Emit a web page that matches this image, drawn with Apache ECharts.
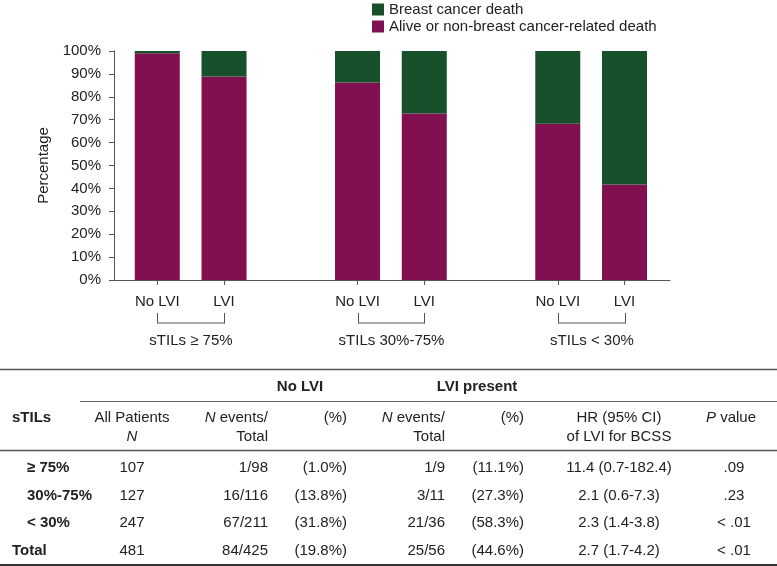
<!DOCTYPE html>
<html><head><meta charset="utf-8">
<script src="https://cdn.jsdelivr.net/npm/echarts@6/dist/echarts.min.js"></script>
<style>html,body{margin:0;padding:0;background:#fff}#c{width:777px;height:566px}</style>
</head><body><div id="c"></div>
<script>
// ---- chart data ----
const groupNames = ['sTILs ≥ 75%', 'sTILs 30%-75%', 'sTILs < 30%'];
const lviNames = ['No LVI', 'LVI'];
const seriesNames = ['Breast cancer death', 'Alive or non-breast cancer-related death'];
const alivePct = [99.0, 88.9, 86.2, 72.7, 68.2, 41.7];
const deathPct = [1.0, 11.1, 13.8, 27.3, 31.8, 58.3];

// ---- table data ----
const rowLabels = ['≥ 75%', '30%-75%', '< 30%', 'Total'];
const allPatients = ['107', '127', '247', '481'];
const noLviEvents = ['1/98', '16/116', '67/211', '84/425'];
const noLviPct = ['(1.0%)', '(13.8%)', '(31.8%)', '(19.8%)'];
const lviEvents = ['1/9', '3/11', '21/36', '25/56'];
const lviPct = ['(11.1%)', '(27.3%)', '(58.3%)', '(44.6%)'];
const hrLvi = ['11.4 (0.7-182.4)', '2.1 (0.6-7.3)', '2.3 (1.4-3.8)', '2.7 (1.7-4.2)'];
const pValues = ['.09', '.23', '< .01', '< .01'];

const FONT = '"Liberation Sans", Arial, Helvetica, sans-serif';
const TXT = '#222';
const GREEN = '#17502A';
const MAGENTA = '#80104F';
const AXIS = '#555';

// categories with an empty slot between groups
const categories = [];
const barIndex = [];   // category index of each bar
groupNames.forEach((g, gi) => {
  if (gi > 0) categories.push('');
  lviNames.forEach(n => { barIndex.push(categories.length); categories.push(n); });
});
function spread(vals) {
  const out = categories.map(() => '-');
  barIndex.forEach((ci, k) => { out[ci] = vals[k]; });
  return out;
}

const chart = echarts.init(document.getElementById('c'), null, { renderer: 'canvas' });

const option = {
  animation: false,
  textStyle: { fontFamily: FONT },
  legend: {
    orient: 'vertical', left: 372, top: 2, padding: 0,
    itemWidth: 12, itemHeight: 12, itemGap: 2,
    icon: 'rect',
    data: [seriesNames[0], seriesNames[1]],
    textStyle: { fontSize: 15, color: TXT, fontFamily: FONT }
  },
  grid: [
    { left: 114, right: 107, top: 51, bottom: 286, containLabel: false },
    { left: 123.9, right: 119.1, top: 51, bottom: 286, containLabel: false }
  ],
  xAxis: [
    {
      gridIndex: 0, type: 'value', min: 0, max: 1,
      splitLine: { show: false }, axisTick: { show: false }, axisLabel: { show: false },
      axisLine: { show: true, lineStyle: { color: AXIS, width: 1 } }
    },
    {
      gridIndex: 1, type: 'category', data: categories,
      axisLine: { show: false },
      axisTick: { show: true, alignWithLabel: true, length: 5, interval: (i, v) => v !== '', lineStyle: { color: AXIS } },
      axisLabel: { interval: 0, margin: 14, fontSize: 15, color: TXT, fontFamily: FONT }
    }
  ],
  yAxis: [
    {
      gridIndex: 0, type: 'value', min: 0, max: 100, interval: 10,
      name: 'Percentage', nameLocation: 'middle', nameGap: 58,
      nameTextStyle: { fontSize: 15, color: TXT, fontFamily: FONT },
      splitLine: { show: false },
      axisLine: { show: true, lineStyle: { color: AXIS, width: 1 } },
      axisTick: { show: true, length: 5, lineStyle: { color: AXIS } },
      axisLabel: { formatter: '{value}%', margin: 13, fontSize: 15, color: TXT, fontFamily: FONT }
    },
    {
      gridIndex: 1, type: 'value', min: 0, max: 100, show: false
    }
  ],
  series: [
    {
      name: seriesNames[1], type: 'bar', stack: 'all', barWidth: 45,
      xAxisIndex: 1, yAxisIndex: 1,
      itemStyle: { color: MAGENTA },
      data: spread(alivePct)
    },
    {
      name: seriesNames[0], type: 'bar', stack: 'all', barWidth: 45,
      xAxisIndex: 1, yAxisIndex: 1,
      itemStyle: { color: GREEN },
      data: spread(deathPct)
    }
  ]
};
chart.setOption(option);

function T(x, y, text, align, bold) {
  return {
    type: 'text', x: x, y: y, silent: true,
    style: {
      text: text, fill: TXT, fontSize: 15, fontFamily: FONT,
      fontWeight: bold ? 'bold' : 'normal',
      align: align || 'center', verticalAlign: 'middle',
      rich: { i: { fontStyle: 'italic', fontSize: 15, fontFamily: FONT, fill: TXT } }
    }
  };
}
function L(x1, y1, x2, y2, w, c) {
  return { type: 'line', silent: true, shape: { x1: x1, y1: y1, x2: x2, y2: y2 }, style: { stroke: c || AXIS, lineWidth: w || 1 } };
}

const g = [];
// brackets + group labels under the axis
groupNames.forEach((name, gi) => {
  const xa = Math.round(chart.convertToPixel({ xAxisIndex: 1 }, barIndex[gi * 2])) + 0.5;
  const xb = Math.round(chart.convertToPixel({ xAxisIndex: 1 }, barIndex[gi * 2 + 1])) + 0.5;
  g.push(L(xa, 313, xa, 323.5, 1, AXIS));
  g.push(L(xb, 313, xb, 323.5, 1, AXIS));
  g.push(L(xa, 323, xb, 323, 1, AXIS));
  g.push(T((xa + xb) / 2, 341, name, 'center', false));
});

// table
g.push(L(0, 369.5, 777, 369.5, 1.5, '#555'));
g.push(L(80, 401.5, 777, 401.5, 1, '#666'));
g.push(L(0, 450.5, 777, 450.5, 1.5, '#555'));
g.push(L(0, 565, 777, 565, 2, '#333'));

g.push(T(300, 387, 'No LVI', 'center', true));
g.push(T(477, 387, 'LVI present', 'center', true));
g.push(T(12, 418, 'sTILs', 'left', true));
g.push(T(132, 418, 'All Patients'));
g.push(T(132, 437, '{i|N}'));
g.push(T(268, 418, '{i|N} events/', 'right'));
g.push(T(268, 437, 'Total', 'right'));
g.push(T(347, 418, '(%)', 'right'));
g.push(T(445, 418, '{i|N} events/', 'right'));
g.push(T(445, 437, 'Total', 'right'));
g.push(T(524, 418, '(%)', 'right'));
g.push(T(619, 418, 'HR (95% CI)'));
g.push(T(619, 437, 'of LVI for BCSS'));
g.push(T(731, 418, '{i|P} value'));

const rowY = [468, 495.5, 523, 550.5];
rowLabels.forEach((lab, i) => {
  const y = rowY[i];
  g.push(T(i === 3 ? 12 : 27, y, lab, 'left', true));
  g.push(T(132, y, allPatients[i]));
  g.push(T(268, y, noLviEvents[i], 'right'));
  g.push(T(347, y, noLviPct[i], 'right'));
  g.push(T(445, y, lviEvents[i], 'right'));
  g.push(T(524, y, lviPct[i], 'right'));
  g.push(T(619, y, hrLvi[i]));
  g.push(T(734, y, pValues[i]));
});

chart.setOption({ graphic: { elements: g } });
</script>
</body></html>
